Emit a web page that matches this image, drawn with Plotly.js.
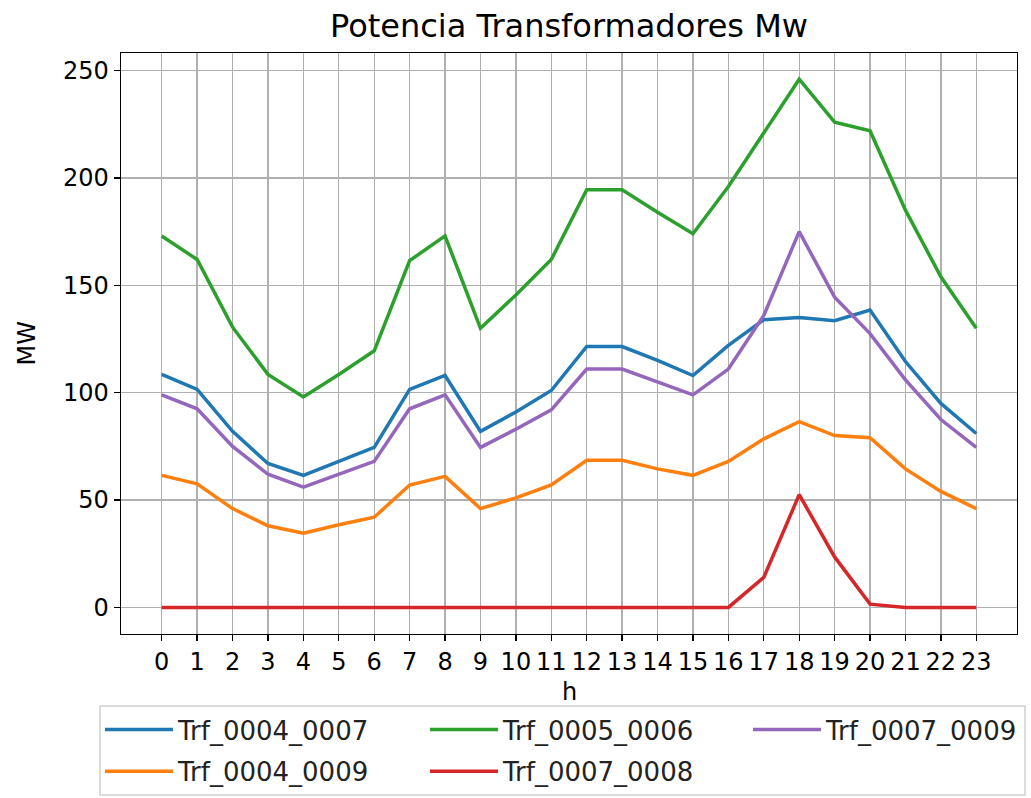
<!DOCTYPE html>
<html>
<head>
<meta charset="utf-8">
<script src="https://cdn.plot.ly/plotly-3.0.1.min.js"></script>
<style>html,body{margin:0;padding:0;background:#fff;}#chart{width:1031px;height:798px;}</style>
</head>
<body>
<div id="chart"></div>
<script>
const hours = [0,1,2,3,4,5,6,7,8,9,10,11,12,13,14,15,16,17,18,19,20,21,22,23];
const seriesNames = ["Trf_0004_0007","Trf_0004_0009","Trf_0005_0006","Trf_0007_0008","Trf_0007_0009"];
const trf_0004_0007 = [108.5,101.5,82,67,61.5,68,74.5,101.5,108,82,91,101,121.5,121.5,115,108,122,134,135,133.5,138.5,114.5,95,81];
const trf_0004_0009 = [61.5,57.5,46,38,34.5,38.5,42,57,61,46,51,57,68.5,68.5,64.5,61.5,68,78.5,86.5,80,79,64.5,54,46];
const trf_0005_0006 = [173,162,130.5,108.5,98,108.5,119.5,161.5,173,130,145.5,162,194.5,194.5,184,174,196,221,246,226,222,185,154,130];
const trf_0007_0008 = [0,0,0,0,0,0,0,0,0,0,0,0,0,0,0,0,0,14,52.5,23.5,1.5,0,0,0];
const trf_0007_0009 = [99,92.5,75,62,56,62,68,92.5,99,74.5,83,92,111,111,105,99,111,136,175,144.5,127.5,106,87.5,74.5];
const yTicks = [0,50,100,150,200,250];
const xTitle = "h";
const yTitle = "MW";

const colors = ["#1f77b4","#ff7f0e","#2ca02c","#d62728","#9467bd"];
const allValues = [trf_0004_0007, trf_0004_0009, trf_0005_0006, trf_0007_0008, trf_0007_0009];
// matplotlib ncol=3 fills column-wise: col1 = series 0,1; col2 = series 2,3; col3 = series 4
const legendIds = ["legend","legend","legend2","legend2","legend3"];

const traces = allValues.map((vals, i) => ({
  x: hours, y: vals, type: "scatter", mode: "lines", name: seriesNames[i],
  line: {color: colors[i], width: 3.5}, legend: legendIds[i], legendgroup: "g" + i
}));

const font = "DejaVu Sans";
const W = 1031, H = 798;
const mL = 121, mR = 14, mT = 53, mB = 164;
const pw = W - mL - mR, ph = H - mT - mB;
const px2paperX = p => (p - mL) / pw;
const px2paperY = p => (H - mB - p) / ph;

function legendAt(xpx) {
  return {
    orientation: "v", xref: "container", yref: "container",
    x: xpx / W, y: 1 - 706 / H, xanchor: "left", yanchor: "top",
    bgcolor: "rgba(0,0,0,0)", borderwidth: 0, tracegroupgap: 5, itemwidth: 68,
    font: {family: font, size: 26, color: "#222"}
  };
}

const axisCommon = {
  ticks: "outside", ticklen: 6, tickwidth: 1.4, tickcolor: "#000",
  showline: true, mirror: true, linecolor: "#000", linewidth: 1.4,
  showgrid: true, gridcolor: "#b0b0b0", gridwidth: 1.4, zeroline: false,
  tickfont: {family: font, size: 24, color: "#000"}, automargin: false
};

const layout = {
  width: W, height: H,
  margin: {l: mL, r: mR, t: mT, b: mB, autoexpand: false},
  paper_bgcolor: "#fff", plot_bgcolor: "#fff",
  font: {family: font, size: 24, color: "#000"},
  title: {text: "Potencia Transformadores Mw", font: {family: font, size: 32, color: "#000"},
          x: 0.5, xref: "paper", y: 1 - 26 / H, yref: "container", yanchor: "middle"},
  xaxis: Object.assign({}, axisCommon, {
    range: [-1.15, 24.15], tickmode: "array", tickvals: hours, ticktext: hours.map(String), tickangle: 0
  }),
  yaxis: Object.assign({}, axisCommon, {
    range: [-12.4, 258.2], tickmode: "array", tickvals: yTicks, ticktext: yTicks.map(String)
  }),
  annotations: [
    {text: xTitle, xref: "paper", yref: "paper", x: 0.5, y: px2paperY(692), xanchor: "center", yanchor: "middle",
     showarrow: false, font: {family: font, size: 24, color: "#000"}},
    {text: yTitle, xref: "paper", yref: "paper", x: px2paperX(26), y: 0.5, xanchor: "center", yanchor: "middle",
     textangle: -90, showarrow: false, font: {family: font, size: 24, color: "#000"}}
  ],
  showlegend: true,
  legend: legendAt(100),
  legend2: legendAt(425),
  legend3: legendAt(748),
  shapes: [{
    type: "rect", xref: "paper", yref: "paper", layer: "above",
    x0: px2paperX(100), x1: px2paperX(1025), y0: px2paperY(706), y1: px2paperY(795),
    line: {color: "#d0d0d0", width: 1.5}, fillcolor: "rgba(255,255,255,0.85)"
  }]
};

Plotly.newPlot("chart", traces, layout, {staticPlot: true, displayModeBar: false});
</script>
</body>
</html>
